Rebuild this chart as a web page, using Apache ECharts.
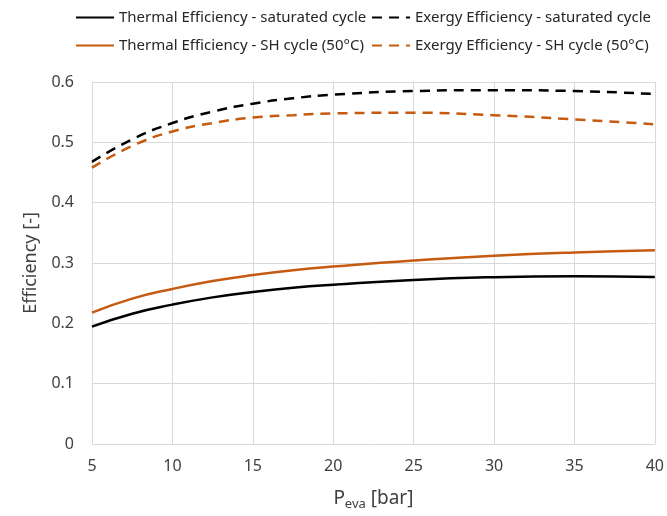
<!DOCTYPE html>
<html lang="en">
<head>
    <meta charset="UTF-8">
    <title>Efficiency vs evaporation pressure</title>
    <script src="https://cdn.jsdelivr.net/npm/echarts@6/dist/echarts.min.js"></script>
    <style>
        *{margin:0;padding:0;}
        html,body{width:100%;height:100%;overflow:hidden;background:#fff;}
        .box{width:667px;height:516px;}
    </style>
</head>
<body>
<div class="box"></div>
<script>
    // evaporation pressure [bar]
    let pressure = [5, 7.5, 10, 12.5, 15, 17.5, 20, 25, 30, 35, 40];

    let thermalSat = [0.1945, 0.216, 0.231, 0.243, 0.252, 0.259, 0.264, 0.272, 0.2765, 0.278, 0.277];
    let exergySat  = [0.4676, 0.505, 0.532, 0.551, 0.564, 0.573, 0.579, 0.585, 0.5865, 0.585, 0.580];
    let thermalSH  = [0.2178, 0.241, 0.257, 0.270, 0.280, 0.288, 0.294, 0.304, 0.312, 0.3175, 0.321];
    let exergySH   = [0.458, 0.494, 0.518, 0.532, 0.541, 0.545, 0.548, 0.549, 0.545, 0.538, 0.530];

    let names = [
        'Thermal Efficiency - saturated cycle',
        'Exergy Efficiency - saturated cycle',
        'Thermal Efficiency - SH cycle (50°C)',
        'Exergy Efficiency - SH cycle (50°C)'
    ];

    const BLACK = '#000000';
    const ORANGE = '#c55a11';
    const FONT = 'Noto Sans';

    function pairs(ys) {
        return pressure.map((x, i) => [x, ys[i]]);
    }

    function makeSeries(name, ys, color, dashed) {
        return {
            name: name,
            type: 'line',
            smooth: 0.5,
            symbol: 'none',
            data: pairs(ys),
            lineStyle: {color: color, width: 2.5, type: dashed ? [10, 7] : 'solid'},
            itemStyle: {color: color}
        };
    }

    function makeLegend(name, left, top) {
        return {
            data: [name],
            left: left,
            top: top,
            itemWidth: 38,
            itemHeight: 12,
            itemGap: 6,
            padding: 0,
            itemStyle: {color: 'rgba(0,0,0,0)', borderWidth: 0},
            textStyle: {fontFamily: FONT, fontSize: 15, color: '#262626'}
        };
    }

    let myChart = echarts.init(document.querySelector('.box'));

    let option = {
        animation: false,
        backgroundColor: '#fff',
        legend: [
            makeLegend(names[0], 75, 10),
            makeLegend(names[1], 371, 10),
            makeLegend(names[2], 75, 38),
            makeLegend(names[3], 371, 38)
        ],
        grid: {left: 92, right: 12, top: 82, bottom: 70},
        xAxis: {
            type: 'value',
            min: 5,
            max: 40,
            interval: 5,
            name: '{p|P}{s|eva}{p| [bar]}',
            nameLocation: 'middle',
            nameGap: 42,
            nameTextStyle: {
                rich: {
                    p: {fontFamily: FONT, fontSize: 19, color: '#404040'},
                    s: {fontFamily: FONT, fontSize: 13, color: '#404040', verticalAlign: 'bottom', padding: [12, 0, 0, 0]}
                }
            },
            axisLine: {show: true, lineStyle: {color: '#d9d9d9', width: 1}},
            axisTick: {show: false},
            axisLabel: {fontFamily: FONT, fontSize: 16, color: '#404040', margin: 14},
            splitLine: {show: true, lineStyle: {color: '#d9d9d9', width: 1}}
        },
        yAxis: {
            type: 'value',
            min: 0,
            max: 0.6,
            interval: 0.1,
            name: 'Efficiency [-]',
            nameLocation: 'middle',
            nameGap: 52,
            nameTextStyle: {fontFamily: FONT, fontSize: 18, color: '#404040'},
            axisLine: {show: true, lineStyle: {color: '#d9d9d9', width: 1}},
            axisTick: {show: false},
            axisLabel: {fontFamily: FONT, fontSize: 16, color: '#404040', margin: 18},
            splitLine: {show: true, lineStyle: {color: '#d9d9d9', width: 1}}
        },
        series: [
            makeSeries(names[0], thermalSat, BLACK, false),
            makeSeries(names[1], exergySat, BLACK, true),
            makeSeries(names[2], thermalSH, ORANGE, false),
            makeSeries(names[3], exergySH, ORANGE, true)
        ]
    };

    myChart.setOption(option);
</script>
</body>
</html>
